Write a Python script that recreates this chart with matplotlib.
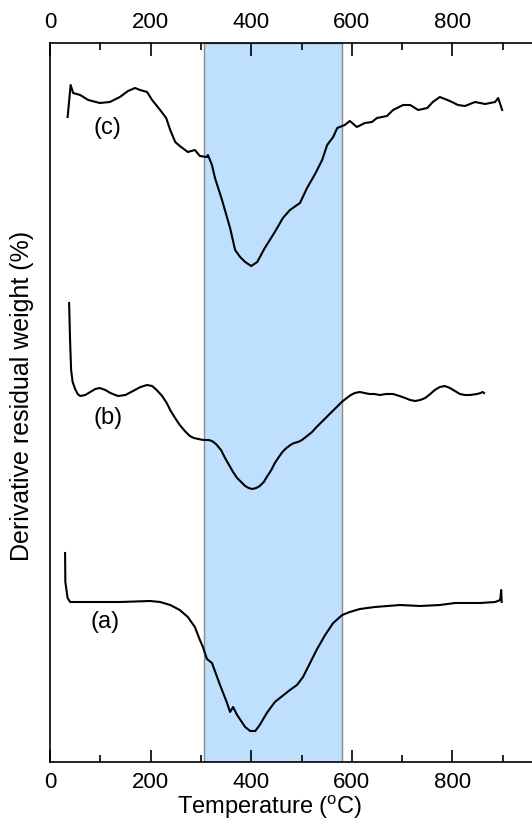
import matplotlib
matplotlib.use("Agg")
import matplotlib.pyplot as plt

plt.rcParams['font.family'] = ['Liberation Sans', 'DejaVu Sans']

# Temperatures (°C) and derivative signal (arbitrary units)
temp_c = [35, 36, 41, 46, 60, 76, 99, 119, 139, 155, 169, 179, 193, 203, 219, 231,
          239, 249, 258, 274, 288, 298, 312, 314, 322, 328, 342, 358, 368, 378, 388,
          400, 412, 427, 447, 463, 477, 497, 511, 527, 541, 551, 563, 571, 586, 596,
          610, 626, 640, 650, 670, 682, 702, 716, 732, 750, 761, 775, 795, 811, 825,
          845, 865, 885, 891, 899]
deriv_c = [645, 650, 677, 669, 667, 662, 659, 660, 665, 671, 674, 672, 670, 662,
           652, 644, 632, 620, 616, 610, 612, 606, 605, 607, 597, 584, 562, 534,
           512, 505, 500, 496, 500, 514, 530, 544, 552, 559, 574, 588, 602, 617,
           625, 634, 637, 641, 635, 639, 640, 644, 646, 652, 657, 657, 652, 654,
           660, 665, 661, 657, 656, 660, 658, 660, 664, 652]

temp_b = [38, 40, 42, 45, 50, 55, 60, 70, 80, 90, 99, 110, 120, 135, 150, 165, 180,
          193, 203, 212, 223, 232, 240, 250, 258, 268, 278, 286, 295, 305, 315, 322,
          330, 340, 348, 356, 364, 372, 380, 388, 395, 402, 410, 417, 425, 431, 440,
          447, 455, 462, 470, 478, 485, 493, 501, 511, 521, 530, 540, 550, 560, 570,
          580, 590, 598, 606, 616, 625, 635, 645, 656, 668, 682, 695, 706, 716, 726,
          736, 746, 756, 765, 775, 785, 795, 805, 815, 825, 835, 849, 856, 860, 863]
deriv_b = [459, 420, 392, 380, 373, 368, 366, 367, 370, 373, 374, 372, 369, 366,
           367, 371, 375, 377, 376, 372, 366, 359, 351, 343, 337, 331, 326, 324,
           323, 322, 322, 321, 318, 312, 304, 297, 290, 284, 280, 276, 274, 273,
           274, 276, 280, 285, 292, 299, 305, 310, 314, 317, 319, 320, 322, 326,
           330, 335, 340, 345, 350, 355, 360, 364, 367, 369, 370, 369, 368, 368,
           367, 368, 368, 366, 364, 362, 361, 362, 364, 368, 372, 375, 376, 374,
           371, 368, 367, 367, 368, 369, 370, 369]

temp_a = [30, 30.5, 35, 40, 80, 139, 199, 219, 239, 258, 274, 288, 298, 304, 312,
          322, 338, 352, 358, 364, 372, 388, 398, 408, 417, 431, 447, 457, 477,
          491, 503, 517, 531, 547, 563, 581, 596, 616, 646, 696, 736, 775, 805,
          855, 885, 895, 897, 898]
deriv_a = [209, 180, 164, 160, 160, 160, 161, 160, 157, 152, 145, 135, 122, 115,
           103, 99, 77, 59, 50, 55, 47, 35, 31, 31, 37, 49, 60, 64, 72, 77, 85,
           99, 113, 127, 139, 147, 150, 153, 155, 157, 156, 157, 159, 159, 160,
           162, 172, 160]

curve_labels = ['(c)', '(b)', '(a)']
label_temp = [115, 115, 109]
label_deriv = [634, 344, 140]

band_lo, band_hi = 307, 580

fig = plt.figure(figsize=(5.32, 8.22), dpi=100)
ax = fig.add_axes([50/532, 1-762/822, 503/532, (762-43)/822])

ax.axvspan(band_lo, band_hi, facecolor='#bfdfff', edgecolor='#8a8a8a', lw=1.0, zorder=0)

for t, d in [(temp_c, deriv_c), (temp_b, deriv_b), (temp_a, deriv_a)]:
    ax.plot(t, d, color='black', lw=1.5, zorder=3, solid_joinstyle='round')

for lab, t, d in zip(curve_labels, label_temp, label_deriv):
    ax.text(t, d, lab, fontsize=17, ha='center', va='center')

ax.set_xlim(0, 1000)
ax.set_ylim(0, 719)
ax.set_xticks(range(0, 801, 200))
ax.set_xticks(range(100, 1000, 200), minor=True)
ax.set_yticks([])
ax.tick_params(axis='x', which='both', direction='in', top=True, bottom=True,
               labeltop=True, labelbottom=True, labelsize=16, pad=7)
ax.tick_params(axis='x', which='major', length=9, width=1.2)
ax.tick_params(axis='x', which='minor', length=5, width=1.2)
for s in ['left', 'top', 'bottom']:
    ax.spines[s].set_linewidth(1.2)
ax.spines['right'].set_visible(False)

ax.set_xlabel('Temperature ($\\mathregular{^{o}}$C)', fontsize=17, labelpad=1)
ax.xaxis.label.set_x((270 - 50) / 503)
fig.text(22/532, 1-396/822, 'Derivative residual weight (%)', rotation=90,
         ha='center', va='center', fontsize=18)

fig.savefig('out.png', dpi=100)
